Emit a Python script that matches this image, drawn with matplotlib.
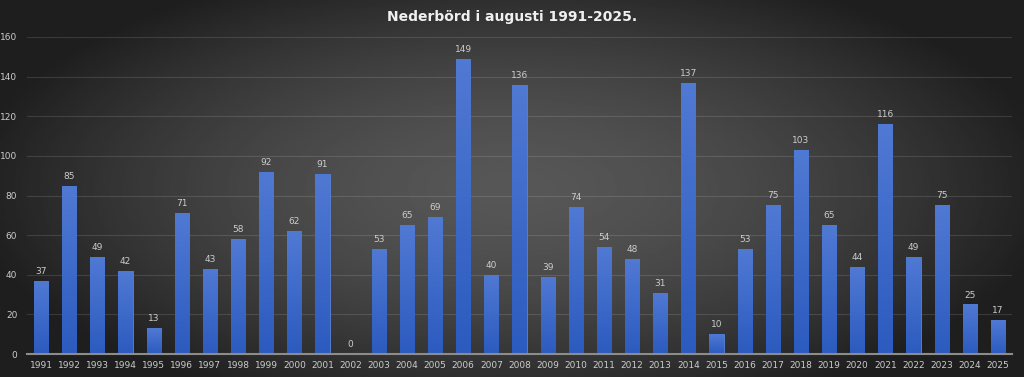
import numpy as np
import matplotlib
matplotlib.use("Agg")
import matplotlib.pyplot as plt
from matplotlib.colors import LinearSegmentedColormap

years = [str(y) for y in range(1991, 2026)]
values = [37, 85, 49, 42, 13, 71, 43, 58, 92, 62, 91, 0, 53, 65, 69, 149, 40,
          136, 39, 74, 54, 48, 31, 137, 10, 53, 75, 103, 65, 44, 116, 49, 75, 25, 17]
yticks = [0, 20, 40, 60, 80, 100, 120, 140, 160]
title = "Nederbörd i augusti 1991-2025."

W, H = 1024, 377
fig = plt.figure(figsize=(W / 100, H / 100), dpi=100)

# radial background: grey in the middle, almost black at the edges
bg = fig.add_axes([0, 0, 1, 1])
yy, xx = np.mgrid[-1:1:200j, -1:1:540j]
r = np.sqrt(xx ** 2 + (yy * 0.85) ** 2)
shade = np.clip(0.34 - 0.2 * r ** 1.6, 0.12, 0.34)
bg.imshow(shade, cmap="gray", vmin=0, vmax=1, aspect="auto", extent=[0, 1, 0, 1])
bg.set_axis_off()

ax = fig.add_axes([27 / W, 1 - 354 / H, (1012 - 27) / W, (354 - 37) / H])
ax.patch.set_alpha(0)
x = np.arange(len(years))
bars = ax.bar(x, values, width=0.5, color="#3b67c6", edgecolor="#5a84d8",
              linewidth=0.6, zorder=3)

# vertical gradient on each bar
grad = np.linspace(0, 1, 64).reshape(-1, 1)
cmap = LinearSegmentedColormap.from_list("b", ["#2c5bbf", "#5079d3"])
for b in bars:
    h = b.get_height()
    if h <= 0:
        continue
    im = ax.imshow(grad, cmap=cmap, aspect="auto", origin="lower",
                   extent=[b.get_x(), b.get_x() + b.get_width(), 0, h], zorder=3.5)
    im.set_clip_path(b)

for xi, v in zip(x, values):
    ax.text(xi, v + 2.5, str(v), ha="center", va="bottom", color="#cccccc",
            fontsize=6.5, zorder=5)

ax.set_xlim(-0.5, len(years) - 0.5)
ax.set_ylim(0, 160)
ax.set_yticks(yticks)
ax.set_xticks(x)
ax.set_xticklabels(years)
ax.tick_params(axis="both", length=0, colors="#cccccc", labelsize=6.5)
ax.tick_params(axis="x", pad=5)
ax.tick_params(axis="y", pad=7)
ax.grid(axis="y", color="white", alpha=0.12, linewidth=0.8, zorder=0)
for s in ["top", "right", "left"]:
    ax.spines[s].set_visible(False)
ax.spines["bottom"].set_color("#8c8c8c")
ax.spines["bottom"].set_linewidth(1.5)
ax.spines["bottom"].set_zorder(4)

fig.text(0.5, 1 - 17 / H, title, ha="center", va="center", color="#f0f0f0",
         fontsize=10, fontweight="bold")

fig.savefig("out.png", dpi=100)
